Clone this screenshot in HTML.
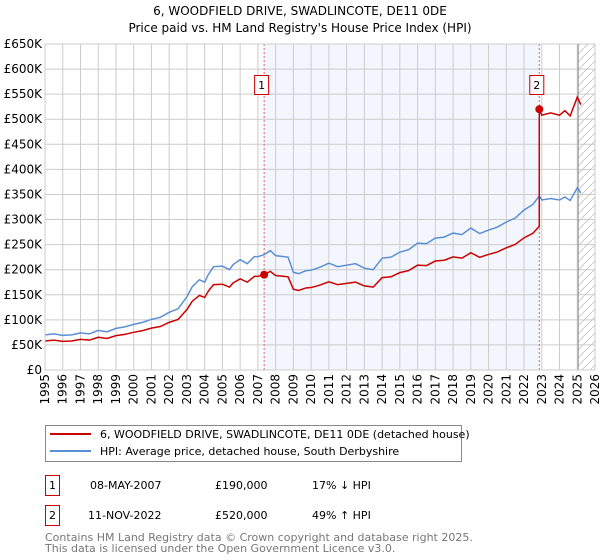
<!DOCTYPE html>
<html><head><meta charset="utf-8"><style>
body{margin:0;background:#fff;font-family:"DejaVu Sans","Liberation Sans",sans-serif;}
svg{display:block}
</style></head><body>
<svg id="chart" width="600" height="560" xmlns="http://www.w3.org/2000/svg" font-family="DejaVu Sans, Liberation Sans, sans-serif">
<text x="300" y="15" text-anchor="middle" font-size="12">6, WOODFIELD DRIVE, SWADLINCOTE, DE11 0DE</text>
<text x="300" y="32" text-anchor="middle" font-size="12">Price paid vs. HM Land Registry's House Price Index (HPI)</text>
<g id="plot"></g>
<g>
<rect x="45.5" y="425.5" width="416" height="36" fill="#fff" stroke="#888"/>
<line x1="50" y1="434" x2="91" y2="434" stroke="#cc0000" stroke-width="2"/>
<text x="100" y="438" font-size="11">6, WOODFIELD DRIVE, SWADLINCOTE, DE11 0DE (detached house)</text>
<line x1="50" y1="451" x2="91" y2="451" stroke="#5b8fd4" stroke-width="2"/>
<text x="100" y="455" font-size="11">HPI: Average price, detached house, South Derbyshire</text>
</g>
<g font-size="11">
<rect x="45.5" y="475.5" width="14" height="20" fill="#fff" stroke="#cc0000"/>
<text x="52.5" y="489" text-anchor="middle">1</text>
<text x="90" y="489">08-MAY-2007</text><text x="215" y="489">£190,000</text><text x="312" y="489">17% ↓ HPI</text>
<rect x="45.5" y="505.5" width="14" height="20" fill="#fff" stroke="#cc0000"/>
<text x="52.5" y="519" text-anchor="middle">2</text>
<text x="88" y="519">11-NOV-2022</text><text x="215" y="519">£520,000</text><text x="312" y="519">49% ↑ HPI</text>
</g>
<text x="45" y="541" font-size="11" fill="#777">Contains HM Land Registry data © Crown copyright and database right 2025.</text>
<text x="45" y="552" font-size="11" fill="#777">This data is licensed under the Open Government Licence v3.0.</text>
</svg>
<script>
const hpiDates=[1995,1995.5,1996,1996.5,1997,1997.5,1998,1998.5,1999,1999.5,2000,2000.5,2001,2001.5,2002,2002.5,2003,2003.3,2003.7,2004,2004.2,2004.5,2005,2005.4,2005.6,2006,2006.4,2006.8,2007,2007.35,2007.7,2008,2008.7,2009,2009.3,2009.7,2010,2010.5,2011,2011.5,2012,2012.5,2013,2013.5,2014,2014.5,2015,2015.5,2016,2016.5,2017,2017.5,2018,2018.5,2019,2019.5,2020,2020.5,2021,2021.5,2022,2022.5,2022.86,2023,2023.5,2024,2024.3,2024.6,2025,2025.2];
const hpiValues=[70,72,69,70,74,72,79,76,83,86,91,95,101,105,115,122,146,166,180,175,190,206,207,200,210,220,212,226,226,230,238,228,225,195,192,198,199,205,213,206,209,212,203,200,223,225,235,240,253,252,263,265,273,270,283,272,279,285,295,303,319,330,347,339,342,339,345,338,363,353];
const sales=[{d:2007.35,v:190,label:"1"},{d:2022.86,v:520,label:"2"}];
const yTicks=[0,50,100,150,200,250,300,350,400,450,500,550,600,650];
const yLabels=["£0","£50K","£100K","£150K","£200K","£250K","£300K","£350K","£400K","£450K","£500K","£550K","£600K","£650K"];
const xYears=[1995,1996,1997,1998,1999,2000,2001,2002,2003,2004,2005,2006,2007,2008,2009,2010,2011,2012,2013,2014,2015,2016,2017,2018,2019,2020,2021,2022,2023,2024,2025,2026];
const X0=45,X1=595,Y0=370,Y1=44;
const x=d=>X0+(d-1995)/(2026-1995)*(X1-X0);
const y=v=>Y0-v/650*(Y0-Y1);
const NS="http://www.w3.org/2000/svg";
const g=document.getElementById('plot');
function mk(t,a,p){const e=document.createElementNS(NS,t);for(const k in a)e.setAttribute(k,a[k]);(p||g).appendChild(e);return e;}
const sh=mk('rect',{x:x(sales[0].d),y:Y1,width:x(sales[1].d)-x(sales[0].d),height:Y0-Y1,fill:'#f3f6fd'});


const defs=mk('defs',{});
const pat=mk('pattern',{id:'hatch',width:8,height:8,patternUnits:'userSpaceOnUse'},defs);
mk('path',{d:'M0,8 L8,0',stroke:'#ccc','stroke-width':1},pat);
const ht=mk('rect',{x:x(2025.05),y:Y1,width:X1-x(2025.05),height:Y0-Y1,fill:'url(#hatch)'});


xYears.forEach(yr=>{mk('line',{x1:x(yr),x2:x(yr),y1:Y1,y2:Y0,stroke:'#ccc','stroke-width':1});
const t=mk('text',{x:0,y:0,transform:`translate(${x(yr)+4},${Y0+4}) rotate(-90)`,'text-anchor':'end','font-size':12});t.textContent=yr;

});
yTicks.forEach((v,i)=>{mk('line',{x1:X0,x2:X1,y1:y(v),y2:y(v),stroke:'#ccc','stroke-width':1});
const t=mk('text',{x:X0-3,y:y(v)+4,'text-anchor':'end','font-size':12});t.textContent=yLabels[i];

});
mk('line',{x1:x(2025.05),x2:x(2025.05),y1:Y1,y2:Y0,stroke:'#888','stroke-width':1});
sales.forEach(s=>{const l=mk('line',{x1:x(s.d),x2:x(s.d),y1:Y1,y2:Y0,stroke:'#e06060','stroke-width':1,'stroke-dasharray':'2,2'});

});
function interp(d){for(let i=0;i<hpiDates.length-1;i++){if(d>=hpiDates[i]&&d<=hpiDates[i+1]){const f=(d-hpiDates[i])/(hpiDates[i+1]-hpiDates[i]);return hpiValues[i]+f*(hpiValues[i+1]-hpiValues[i]);}}return hpiValues[hpiValues.length-1];}
const hp=mk('polyline',{points:hpiDates.map((d,i)=>x(d)+','+y(hpiValues[i])).join(' '),fill:'none',stroke:'#5b8fd4','stroke-width':1.5});


const pts=[];
const r1=sales[0].v/interp(sales[0].d),r2=sales[1].v/interp(sales[1].d);
hpiDates.forEach((d,i)=>{if(d<sales[1].d)pts.push([d,hpiValues[i]*r1]);});
pts.push([sales[1].d,interp(sales[1].d)*r1]);
pts.push([sales[1].d,sales[1].v]);
hpiDates.forEach((d,i)=>{if(d>sales[1].d)pts.push([d,hpiValues[i]*r2]);});
const rp=mk('polyline',{points:pts.map(p=>x(p[0])+','+y(p[1])).join(' '),fill:'none',stroke:'#cc0000','stroke-width':1.5});


sales.forEach(s=>{const c=mk('circle',{cx:x(s.d),cy:y(s.v),r:4,fill:'#cc0000'});


const b=mk('rect',{x:x(s.d)-9.5,y:75.5,width:14,height:19,fill:'#fff',stroke:'#cc0000'});


const t=mk('text',{x:x(s.d)-2.5,y:89,'text-anchor':'middle','font-size':11});t.textContent=s.label;

});
mk('rect',{x:X0,y:Y1,width:X1-X0,height:Y0-Y1,fill:'none',stroke:'#ccc'});
</script>
</body></html>
